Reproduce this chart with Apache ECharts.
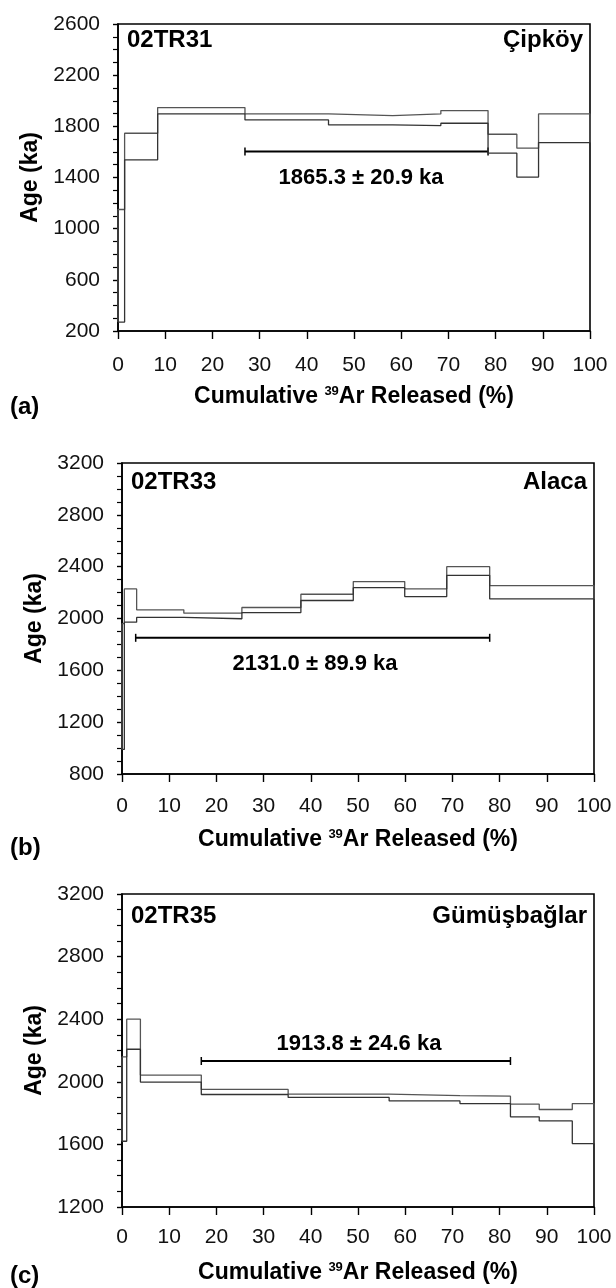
<!DOCTYPE html>
<html>
<head>
<meta charset="utf-8">
<script src="https://cdn.jsdelivr.net/npm/echarts@6/dist/echarts.min.js"></script>
<style>html,body{margin:0;padding:0;background:#fff;}</style>
</head>
<body>
<div id="main" style="width:616px;height:1288px;"></div>
<script>
// step edges (cumulative 39Ar, %) and age envelope of each step (ka)
var edgesA = [0, 1.4, 8.4, 26.9, 44.6, 58.2, 68.4, 78.4, 84.5, 89.1, 100];
var loA = [270, 1538, 1897, 1850, 1811, 1806, 1824, 1590, 1403, 1673];
var hiA = [1150, 1746, 1947, 1897, 1884, 1897, 1923, 1738, 1629, 1897];

var edgesB = [0, 0.5, 3.1, 13.1, 25.4, 37.9, 49.0, 59.9, 68.8, 77.9, 100];
var loB = [990, 1972, 2008, 1998, 2046, 2139, 2238, 2169, 2333, 2151];
var hiB = [1960, 2228, 2067, 2041, 2085, 2187, 2285, 2228, 2400, 2254];

var edgesC = [0, 1.0, 3.9, 16.8, 35.2, 56.6, 71.6, 82.3, 88.4, 95.4, 100];
var loC = [1620, 2208, 1998, 1919, 1900, 1878, 1861, 1776, 1750, 1605];
var hiC = [2159, 2400, 2043, 1951, 1921, 1912, 1908, 1857, 1823, 1861];

// plateau: [from %, to %, bar age], label, [label x %, label age]
var plateauA = [26.9, 78.4, 1603], labelA = '1865.3 ± 20.9 ka', labelPosA = [51.5, 1395];
var plateauB = [2.9, 77.9, 1851], labelB = '2131.0 ± 89.9 ka', labelPosB = [40.9, 1648];
var plateauC = [16.8, 82.3, 2133], labelC = '1913.8 ± 24.6 ka', labelPosC = [50.2, 2240];

// y axis ranges
var yRangeA = [200, 2600], yRangeB = [800, 3200], yRangeC = [1200, 3200];
var samples = ['02TR31', '02TR33', '02TR35'];
var places = ['Çipköy', 'Alaca', 'Gümüşbağlar'];
var tags = ['(a)', '(b)', '(c)'];

var FONT = '"Liberation Sans", Arial, sans-serif';
var myChart = echarts.init(document.getElementById('main'));

// upper envelope: left wall, tops of steps, right wall
function upperLine(edges, lo, hi) {
    var n = lo.length, out = [[edges[0], lo[0]]];
    for (var i = 0; i < n; i++) out.push([edges[i], hi[i]]);
    out.push([edges[n], hi[n - 1]]);
    out.push([edges[n], lo[n - 1]]);
    return out;
}
// lower envelope: bottoms of steps
function lowerLine(edges, lo) {
    var n = lo.length, out = [];
    for (var i = 0; i < n; i++) out.push([edges[i], lo[i]]);
    out.push([edges[n], lo[n - 1]]);
    return out;
}

function envSeries(idx, data, color) {
    return {
        type: 'line', xAxisIndex: idx, yAxisIndex: idx, data: data, step: 'end',
        symbol: 'none', silent: true,
        lineStyle: {color: color, width: 1.3}
    };
}

function plateauSeries(idx, pl, text, pos) {
    return {
        type: 'custom', xAxisIndex: idx, yAxisIndex: idx, silent: true,
        data: [[pl[0], pl[1], pl[2], pos[0], pos[1]]],
        encode: {x: [0, 1], y: 2},
        renderItem: function (params, api) {
            var p0 = api.coord([api.value(0), api.value(2)]);
            var p1 = api.coord([api.value(1), api.value(2)]);
            var t = api.coord([api.value(3), api.value(4)]);
            var cap = {stroke: '#000', lineWidth: 1.5};
            return {
                type: 'group', children: [
                    {type: 'line', shape: {x1: p0[0], y1: p0[1], x2: p1[0], y2: p1[1]}, style: {stroke: '#000', lineWidth: 2}},
                    {type: 'line', shape: {x1: p0[0], y1: p0[1] - 4, x2: p0[0], y2: p0[1] + 4}, style: cap},
                    {type: 'line', shape: {x1: p1[0], y1: p1[1] - 4, x2: p1[0], y2: p1[1] + 4}, style: cap},
                    {type: 'text', x: t[0], y: t[1], style: {
                        text: text, font: 'bold 22px ' + FONT, fill: '#000',
                        textAlign: 'center', textVerticalAlign: 'middle'}}
                ]
            };
        }
    };
}

function xAx(idx, margin) {
    return {
        type: 'value', gridIndex: idx, min: 0, max: 100, interval: 10,
        axisLine: {onZero: false, lineStyle: {color: '#000', width: 1.6}},
        axisTick: {length: 8, lineStyle: {color: '#000', width: 1.4}},
        axisLabel: {margin: margin, fontSize: 21, color: '#111', fontFamily: FONT},
        splitLine: {show: false},
        name: '{b|Cumulative }{s|39}{b|Ar Released (%)}',
        nameLocation: 'middle', nameGap: 54,
        nameTextStyle: {
            rich: {
                b: {fontSize: 23, fontWeight: 'bold', fontFamily: FONT, color: '#000'},
                s: {fontSize: 13, fontWeight: 'bold', fontFamily: FONT, color: '#000', verticalAlign: 'top'}
            }
        }
    };
}

function yAx(idx, range) {
    return {
        type: 'value', gridIndex: idx, min: range[0], max: range[1], interval: 400,
        axisLine: {lineStyle: {color: '#000', width: 1.6}},
        axisTick: {length: 5, lineStyle: {color: '#000', width: 1.4}},
        minorTick: {show: true, splitNumber: 4, length: 5, lineStyle: {color: '#000', width: 1.2}},
        axisLabel: {margin: 18, fontSize: 21, color: '#111', fontFamily: FONT,
            formatter: function (v) { return String(v); }},
        splitLine: {show: false},
        name: 'Age (ka)', nameLocation: 'middle', nameGap: 75, nameRotate: 90,
        nameTextStyle: {fontSize: 23, fontWeight: 'bold', fontFamily: FONT, color: '#000'}
    };
}

var grids = [
    {left: 118, right: 26, top: 24, height: 307},
    {left: 122, right: 22, top: 463, height: 311},
    {left: 122, right: 22, top: 894, height: 313}
];
grids.forEach(function (g) { g.show = true; g.borderColor = '#000'; g.borderWidth = 1.6; g.backgroundColor = 'transparent'; });

// panel annotation positions (pixels)
var nameY = [40, 482, 916];
var tagY = [407, 848, 1276];

var graphics = [];
for (var i = 0; i < 3; i++) {
    var g = grids[i];
    graphics.push({type: 'text', x: g.left + 9, y: nameY[i], style: {text: samples[i], font: 'bold 24px ' + FONT, fill: '#000', textVerticalAlign: 'middle'}});
    graphics.push({type: 'text', x: 616 - g.right - 7, y: nameY[i], style: {text: places[i], font: 'bold 24px ' + FONT, fill: '#000', textAlign: 'right', textVerticalAlign: 'middle'}});
    graphics.push({type: 'text', x: 10, y: tagY[i], style: {text: tags[i], font: 'bold 24px ' + FONT, fill: '#000', textVerticalAlign: 'middle'}});
}

myChart.setOption({
    animation: false,
    backgroundColor: '#fff',
    grid: grids,
    xAxis: [xAx(0, 24), xAx(1, 22), xAx(2, 20)],
    yAxis: [yAx(0, yRangeA), yAx(1, yRangeB), yAx(2, yRangeC)],
    graphic: graphics,
    series: [
        envSeries(0, upperLine(edgesA, loA, hiA), '#555'),
        envSeries(0, lowerLine(edgesA, loA), '#333'),
        envSeries(1, upperLine(edgesB, loB, hiB), '#555'),
        envSeries(1, lowerLine(edgesB, loB), '#333'),
        envSeries(2, upperLine(edgesC, loC, hiC), '#555'),
        envSeries(2, lowerLine(edgesC, loC), '#333'),
        plateauSeries(0, plateauA, labelA, labelPosA),
        plateauSeries(1, plateauB, labelB, labelPosB),
        plateauSeries(2, plateauC, labelC, labelPosC)
    ]
});
</script>
</body>
</html>
